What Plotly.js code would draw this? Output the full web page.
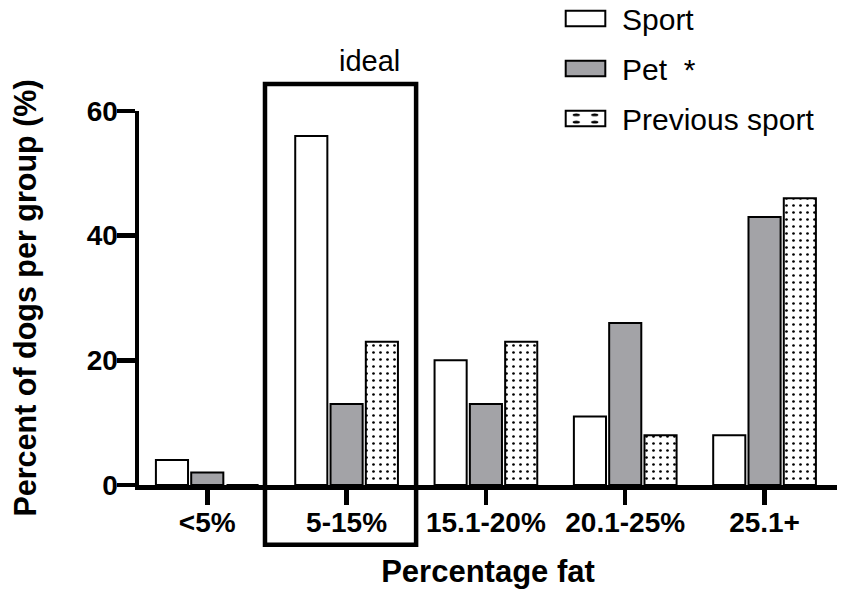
<!DOCTYPE html>
<html>
<head>
<meta charset="utf-8">
<script src="https://cdn.plot.ly/plotly-3.0.1.min.js"></script>
<style>
  html, body { margin: 0; padding: 0; background: #fff; }
  #chart { width: 851px; height: 596px; }
</style>
</head>
<body>
<div id="chart"></div>
<script>
const categories = ['<5%', '5-15%', '15.1-20%', '20.1-25%', '25.1+'];
const sportValues = [4, 56, 20, 11, 8];
const petValues = [2, 13, 13, 26, 43];
const previousValues = [0, 23, 23, 8, 46];
const yTicks = [0, 20, 40, 60];

const FONT = '"Liberation Sans", Arial, sans-serif';
const Chart = document.getElementById('chart');

var data = [
  {
    x: categories, y: sportValues, type: 'bar', name: 'Sport', legendgroup: 'a',
    marker: { color: '#ffffff', line: { color: '#000', width: 2 } }
  },
  {
    x: categories, y: petValues, type: 'bar', name: 'Pet  *', legendgroup: 'b',
    marker: { color: '#a3a3a7', line: { color: '#000', width: 2 } }
  },
  {
    x: categories, y: previousValues, type: 'bar', name: 'Previous sport', legendgroup: 'c',
    marker: {
      color: '#ffffff', line: { color: '#000', width: 2 },
      pattern: { shape: '.', fgcolor: '#000', bgcolor: '#fff', size: 7, solidity: 0.12 }
    }
  }
];

var layout = {
  width: 851, height: 596,
  margin: { l: 139, r: 14, t: 111, b: 111, autoexpand: false },
  paper_bgcolor: '#fff', plot_bgcolor: '#fff',
  font: { family: FONT, color: '#000' },
  barmode: 'group', bargap: 0.24, bargroupgap: 0.09,
  showlegend: true,
  legend: {
    x: 0.5874, xanchor: 'left', y: 1.317, yanchor: 'top',
    font: { family: FONT, size: 30, color: '#000' },
    itemwidth: 63, tracegroupgap: 8, bgcolor: 'rgba(0,0,0,0)'
  },
  xaxis: {
    range: [-0.49, 4.52],
    showline: true, linewidth: 4.5, linecolor: '#000',
    ticks: 'outside', ticklen: 15, tickwidth: 4.5, tickcolor: '#000',
    ticklabelstandoff: -6,
    tickfont: { family: FONT, size: 28, color: '#000', weight: 'bold' },
    showgrid: false, zeroline: false,
    title: { text: 'Percentage fat', font: { family: FONT, size: 31, color: '#000', weight: 'bold' }, standoff: 24 }
  },
  yaxis: {
    range: [0, 60], tickvals: yTicks,
    showline: true, linewidth: 4.5, linecolor: '#000',
    ticks: 'outside', ticklen: 18, tickwidth: 4.5, tickcolor: '#000',
    ticklabelstandoff: -7,
    tickfont: { family: FONT, size: 28, color: '#000', weight: 'bold' },
    showgrid: false, zeroline: false,
    title: { text: 'Percent of dogs per group (%)', font: { family: FONT, size: 30.5, color: '#000', weight: 'bold' }, standoff: 42 }
  },
  shapes: [
    { type: 'rect', xref: 'paper', yref: 'paper', x0: 0.1805, x1: 0.397, y0: -0.16, y1: 1.072,
      line: { color: '#000', width: 4.5 }, fillcolor: 'rgba(0,0,0,0)' }
  ],
  annotations: [
    { text: 'ideal', xref: 'paper', yref: 'paper', x: 0.284, y: 1.135, yanchor: 'middle', showarrow: false,
      font: { family: FONT, size: 29, color: '#000' } }
  ]
};

Plotly.newPlot(Chart, data, layout, { displayModeBar: false, staticPlot: true }).then(function () {
  // bigger legend swatches, like the original figure
  Chart.querySelectorAll('.legend .legendpoints path').forEach(function (p) {
    var t = p.getAttribute('transform') || '';
    p.setAttribute('transform', t + ' scale(3.3,1.3)');
    p.setAttribute('vector-effect', 'non-scaling-stroke');
  });
});
</script>
</body>
</html>
